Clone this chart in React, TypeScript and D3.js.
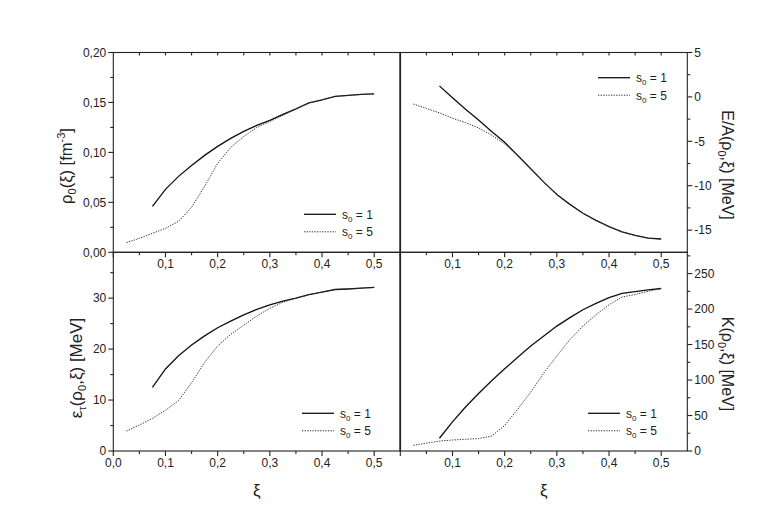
import React from "react";
import * as d3 from "d3";

// ---- data ----
const xiSolid = [0.075, 0.1, 0.125, 0.15, 0.175, 0.2, 0.225, 0.25, 0.275, 0.3, 0.325, 0.35, 0.375, 0.4, 0.425, 0.45, 0.475, 0.5];
const xiDotted = [0.025, 0.05, 0.075, 0.1, 0.125, 0.15, 0.175, 0.2, 0.225, 0.25, 0.275, 0.3, 0.325, 0.35, 0.375, 0.4, 0.425, 0.45, 0.475, 0.5];

const rhoS1 = [0.046, 0.063, 0.076, 0.087, 0.097, 0.106, 0.114, 0.121, 0.127, 0.132, 0.138, 0.1435, 0.1495, 0.1525, 0.156, 0.157, 0.158, 0.1585];
const rhoS5 = [0.0097, 0.014, 0.019, 0.024, 0.031, 0.045, 0.066, 0.089, 0.105, 0.116, 0.125, 0.131, 0.137, 0.1435, 0.1495, 0.1525, 0.156, 0.157, 0.158, 0.1585];

const eaS1 = [1.24, -0.1, -1.4, -2.6, -3.9, -5.1, -6.6, -8.1, -9.6, -11.0, -12.1, -13.1, -13.9, -14.6, -15.2, -15.6, -15.9, -16.0];
const eaS5 = [-0.8, -1.3, -1.8, -2.4, -2.9, -3.5, -4.3, -5.3, -6.6, -8.1, -9.6, -11.0, -12.1, -13.1, -13.9, -14.6, -15.2, -15.6, -15.9, -16.0];

const epsS1 = [12.5, 16.1, 18.7, 20.8, 22.6, 24.2, 25.5, 26.7, 27.8, 28.7, 29.4, 30.0, 30.7, 31.2, 31.7, 31.8, 31.95, 32.1];
const epsS5 = [3.9, 5.1, 6.4, 8.0, 9.9, 13.4, 17.4, 20.6, 22.9, 24.7, 26.5, 28.0, 29.2, 30.0, 30.7, 31.2, 31.7, 31.8, 31.95, 32.1];

const kS1 = [18, 41, 62, 81, 99, 116, 132, 148, 162, 176, 188, 199, 208, 216, 222, 224.5, 227, 229];
const kS5 = [8, 11, 14, 15.5, 16.5, 17.5, 21, 36, 59, 83, 110, 134, 157, 176, 192, 206, 217, 220.5, 225, 229];

const xMajor = [0.1, 0.2, 0.3, 0.4, 0.5];
const xMajorWithZero = [0.0, 0.1, 0.2, 0.3, 0.4, 0.5];
const xMinor = [0.05, 0.15, 0.25, 0.35, 0.45];

const rhoTicks = [0, 0.05, 0.1, 0.15, 0.2];
const rhoMinor = [0.025, 0.075, 0.125, 0.175];
const eaTicks = [-15, -10, -5, 0, 5];
const eaMinor = [-12.5, -7.5, -2.5, 2.5];
const epsTicks = [0, 10, 20, 30];
const epsMinor = [5, 15, 25, 35];
const kTicks = [0, 50, 100, 150, 200, 250];
const kMinor = [25, 75, 125, 175, 225, 275];

const legendLabels = ["1", "5"];

// ---- layout ----
const L = 113.3, M = 400.3, R = 687.3;
const T = 52.5, MID = 252.3, B = 451;
const FONT = "'Liberation Sans', Arial, Helvetica, sans-serif";

const comma = (v: number, d: number) => v.toFixed(d).replace(".", ",");

type Panel = {
  x0: number; x1: number; y0: number; y1: number;
  yDomain: [number, number];
  s1: number[]; s5: number[];
  yTicks: number[]; yMinor: number[]; yFmt: (v: number) => string;
  side: "left" | "right";
  xLabels: number[];
  legend: [number, number];
};

const panels: Panel[] = [
  { x0: L, x1: M, y0: T, y1: MID, yDomain: [0, 0.2], s1: rhoS1, s5: rhoS5, yTicks: rhoTicks, yMinor: rhoMinor, yFmt: v => comma(v, 2), side: "left", xLabels: xMajor, legend: [304, 214.3] },
  { x0: M, x1: R, y0: T, y1: MID, yDomain: [-17.5, 5], s1: eaS1, s5: eaS5, yTicks: eaTicks, yMinor: eaMinor, yFmt: v => String(v), side: "right", xLabels: xMajor, legend: [598, 77.7] },
  { x0: L, x1: M, y0: MID, y1: B, yDomain: [0, 39], s1: epsS1, s5: epsS5, yTicks: epsTicks, yMinor: epsMinor, yFmt: v => String(v), side: "left", xLabels: xMajorWithZero, legend: [302, 413.3] },
  { x0: M, x1: R, y0: MID, y1: B, yDomain: [0, 280], s1: kS1, s5: kS5, yTicks: kTicks, yMinor: kMinor, yFmt: v => String(v), side: "right", xLabels: xMajor, legend: [588, 413.3] },
];

function PanelView({ p }: { p: Panel }) {
  const x = d3.scaleLinear().domain([0, 0.55]).range([p.x0, p.x1]);
  const y = d3.scaleLinear().domain(p.yDomain).range([p.y1, p.y0]);
  const line = d3.line<[number, number]>().x(d => x(d[0])).y(d => y(d[1]));
  const solid = line(xiSolid.map((v, i) => [v, p.s1[i]] as [number, number])) || "";
  const dotted = line(xiDotted.map((v, i) => [v, p.s5[i]] as [number, number])) || "";
  const ax = p.side === "left" ? p.x0 : p.x1;
  const dir = p.side === "left" ? -1 : 1;
  const [lx, ly] = p.legend;
  return (
    <g>
      <rect x={p.x0} y={p.y0} width={p.x1 - p.x0} height={p.y1 - p.y0} fill="none" stroke="#222" strokeWidth={1.1} />
      {p.yTicks.map(v => (
        <g key={"yt" + v}>
          <line x1={ax} x2={ax + dir * 5} y1={y(v)} y2={y(v)} stroke="#222" strokeWidth={1.1} />
          <text x={ax + dir * 7} y={y(v)} dy="0.36em" textAnchor={p.side === "left" ? "end" : "start"} fontSize={12} fill="#222">{p.yFmt(v)}</text>
        </g>
      ))}
      {p.yMinor.map(v => (
        <line key={"ym" + v} x1={ax} x2={ax + dir * 3} y1={y(v)} y2={y(v)} stroke="#222" strokeWidth={1.1} />
      ))}
      {xMajorWithZero.map(v => (
        <line key={"xt" + v} x1={x(v)} x2={x(v)} y1={p.y1} y2={p.y1 + 5} stroke="#222" strokeWidth={1.1} />
      ))}
      {xMinor.map(v => (
        <line key={"xm" + v} x1={x(v)} x2={x(v)} y1={p.y1} y2={p.y1 + 3} stroke="#222" strokeWidth={1.1} />
      ))}
      {p.y0 === T && [...xMajor, ...xMinor].map(v => (
        <line key={"xtt" + v} x1={x(v)} x2={x(v)} y1={p.y0} y2={p.y0 + 3} stroke="#222" strokeWidth={1.1} />
      ))}
      {p.xLabels.map(v => (
        <text key={"xl" + v} x={x(v)} y={p.y1 + 16} textAnchor="middle" fontSize={12} fill="#222">{comma(v, 1)}</text>
      ))}
      <path d={solid} fill="none" stroke="#111" strokeWidth={1.3} />
      <path d={dotted} fill="none" stroke="#333" strokeWidth={1} strokeDasharray="1.3,1.3" />
      <line x1={lx} x2={lx + 32} y1={ly} y2={ly} stroke="#111" strokeWidth={1.3} />
      <line x1={lx} x2={lx + 32} y1={ly + 17.5} y2={ly + 17.5} stroke="#333" strokeWidth={1} strokeDasharray="1.3,1.3" />
      {legendLabels.map((lab, i) => (
        <text key={lab} x={lx + 38} y={ly + i * 17.5 + 4.5} fontSize={12} fill="#222">
          s<tspan dy={3} fontSize={8}>0</tspan><tspan dy={-3}> = {lab}</tspan>
        </text>
      ))}
    </g>
  );
}

export default function App() {
  return (
    <svg width={763} height={532} style={{ display: "block", position: "absolute", left: 0, top: 0 }} fontFamily={FONT}>
      <rect width={763} height={532} fill="#fff" />
      {panels.map((p, i) => <PanelView key={i} p={p} />)}
      <line x1={M} x2={M} y1={T} y2={B} stroke="#222" strokeWidth={1.6} />
      <text transform={`translate(72, 166) rotate(-90)`} textAnchor="middle" fontSize={16.5} fill="#222">
        ρ<tspan dy={4} fontSize={11}>0</tspan><tspan dy={-4}>(ξ) [fm</tspan><tspan dy={-7} fontSize={11}>-3</tspan><tspan dy={7}>]</tspan>
      </text>
      <text transform={`translate(82, 368) rotate(-90)`} textAnchor="middle" fontSize={17} fill="#222">
        ε<tspan dy={4} fontSize={11}>τ</tspan><tspan dy={-4}>(ρ</tspan><tspan dy={4} fontSize={11}>0</tspan><tspan dy={-4}>,ξ) [MeV]</tspan>
      </text>
      <text transform={`translate(722, 165) rotate(90)`} textAnchor="middle" fontSize={16} fill="#222">
        E/A(ρ<tspan dy={4} fontSize={11}>0</tspan><tspan dy={-4}>,ξ) [MeV]</tspan>
      </text>
      <text transform={`translate(722, 364) rotate(90)`} textAnchor="middle" fontSize={16} fill="#222">
        K(ρ<tspan dy={4} fontSize={11}>0</tspan><tspan dy={-4}>,ξ) [MeV]</tspan>
      </text>
      <text x={(L + M) / 2} y={496} textAnchor="middle" fontSize={17} fill="#222">ξ</text>
      <text x={(M + R) / 2} y={496} textAnchor="middle" fontSize={17} fill="#222">ξ</text>
    </svg>
  );
}
